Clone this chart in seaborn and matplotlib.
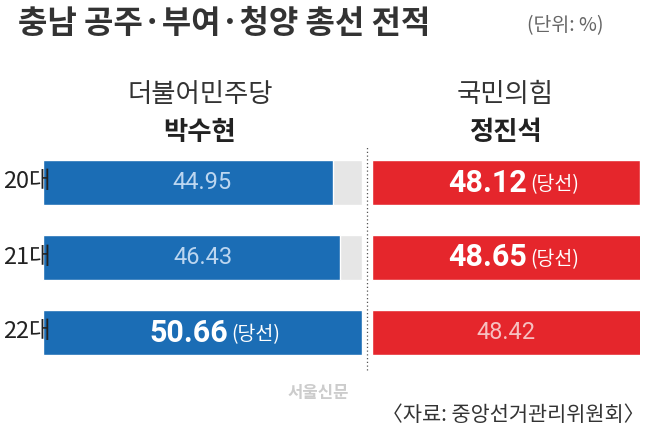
import matplotlib
matplotlib.use('Agg')
import matplotlib.pyplot as plt
import seaborn as sns
import pandas as pd

sns.set_style('white')
plt.rcParams['font.family'] = ['Noto Sans CJK KR', 'DejaVu Sans']

# data
elections = ['20대', '21대', '22대']
dem = [44.95, 46.43, 50.66]
ppp = [48.12, 48.65, 48.42]
dem_win = [False, False, True]
ppp_win = [True, True, False]
base = -12  # bars start offset (axis break look)

df = pd.DataFrame({'election': elections, 'dem': dem, 'ppp': ppp})
df['dem_w'] = df['dem'] - base
df['ppp_w'] = df['ppp'] - base
top = max(dem + ppp)
df['full'] = top - base

fig = plt.figure(figsize=(6.52, 4.37), dpi=100)
W, H = 652, 437

def ax_at(x0, x1, y0, y1):
    return fig.add_axes([x0 / W, 1 - y1 / H, (x1 - x0) / W, (y1 - y0) / H])

blue, red, gray = '#1b6db5', '#e5262c', '#e6e6e6'
numfont = ['Roboto', 'DejaVu Sans']

axl = ax_at(43, 362, 145, 370)
sns.barplot(data=df, y='election', x='full', ax=axl, color=gray, width=0.6, orient='h', saturation=1)
sns.barplot(data=df, y='election', x='dem_w', ax=axl, color=blue, width=0.6, orient='h', saturation=1)
axl.set_xlim(0, top - base)

axr = ax_at(372, 640, 145, 370)
sns.barplot(data=df, y='election', x='ppp_w', ax=axr, color=red, width=0.6, orient='h', saturation=1)
axr.set_xlim(0, min(ppp) - base)

for ax in (axl, axr):
    ax.set_ylim(2.5, -0.5)
    ax.axis('off')

def label(ax, i, v, win, light):
    if win:
        ax.text(0.58, i, f'{v:.2f}', transform=ax.get_yaxis_transform(), ha='right',
                va='center', color='white', fontsize=22, fontweight='bold', family=numfont)
        ax.text(0.59, i + 0.03, '(당선)', transform=ax.get_yaxis_transform(), ha='left',
                va='center', color='white', fontsize=14)
    else:
        ax.text(0.5, i, f'{v:.2f}', transform=ax.get_yaxis_transform(), ha='center',
                va='center', color=light, fontsize=17, family=numfont)

for i in range(3):
    label(axl, i, dem[i], dem_win[i], '#bcd6f0')
    label(axr, i, ppp[i], ppp_win[i], '#f6c0c0')
    fig.text(3 / W, 1 - (182 + 75 * i) / H, elections[i], ha='left', va='center',
             fontsize=17, color='#222')

fig.add_artist(plt.Line2D([367 / W, 367 / W], [1 - 370 / H, 1 - 145 / H],
                          color='#555', linestyle=(0, (1, 2)), linewidth=0.9))

fig.text(18 / W, 1 - 24 / H, '충남 공주·부여·청양 총선 전적', fontsize=23,
         fontweight='bold', color='#333', va='center')
fig.text(527 / W, 1 - 26 / H, '(단위: %)', fontsize=14, color='#666', va='center')
fig.text(200 / W, 1 - 94 / H, '더불어민주당', fontsize=19, color='#333', ha='center', va='center')
fig.text(200 / W, 1 - 133 / H, '박수현', fontsize=19, fontweight='bold', color='#222', ha='center', va='center')
fig.text(505 / W, 1 - 94 / H, '국민의힘', fontsize=19, color='#333', ha='center', va='center')
fig.text(505 / W, 1 - 133 / H, '정진석', fontsize=19, fontweight='bold', color='#222', ha='center', va='center')
fig.text(318 / W, 1 - 393 / H, '서울신문', fontsize=12, color='#cccccc', ha='center', va='center', fontweight='bold')
fig.text(645 / W, 1 - 415 / H, '〈자료: 중앙선거관리위원회〉', fontsize=15, color='#333', ha='right', va='center')

fig.savefig('out.png', dpi=100)
